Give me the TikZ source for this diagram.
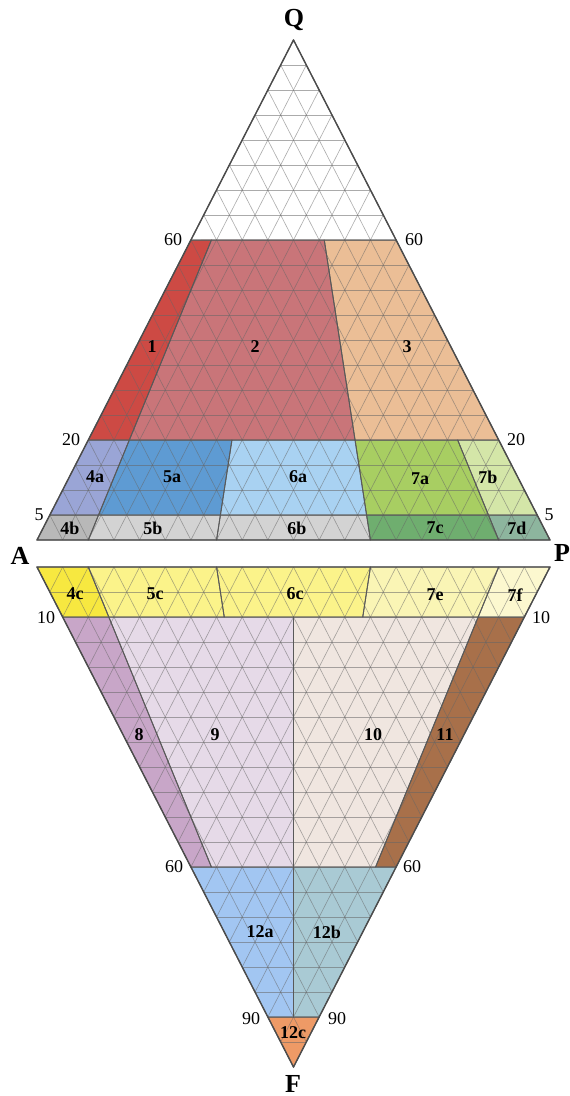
\documentclass[tikz,border=0pt]{standalone}
\usepackage{fontspec}
\setmainfont{Liberation Serif}
\usetikzlibrary{calc}
\definecolor{c1}{HTML}{CD4A44}
\definecolor{c2}{HTML}{C97579}
\definecolor{c3}{HTML}{EBBE96}
\definecolor{c4a}{HTML}{9AA5D6}
\definecolor{c5a}{HTML}{5E9BD3}
\definecolor{c6a}{HTML}{A9D2F2}
\definecolor{c7a}{HTML}{A8CE62}
\definecolor{c7b}{HTML}{D4E6A8}
\definecolor{c4b}{HTML}{B8B8B8}
\definecolor{c5b}{HTML}{D3D3D3}
\definecolor{c7c}{HTML}{6FAE6F}
\definecolor{c7d}{HTML}{8DB59E}
\definecolor{c4c}{HTML}{F7E840}
\definecolor{c5c}{HTML}{FBF38A}
\definecolor{c7e}{HTML}{FAF5B5}
\definecolor{c7f}{HTML}{FCF8CF}
\definecolor{c8}{HTML}{C8A6C8}
\definecolor{c9}{HTML}{E6DAE8}
\definecolor{c10}{HTML}{F0E6E0}
\definecolor{c11}{HTML}{A8704A}
\definecolor{c12a}{HTML}{A2C6F2}
\definecolor{c12b}{HTML}{A9CAD4}
\definecolor{c12c}{HTML}{EE9A66}
\tikzset{
  meshline/.style={draw=black!60, line width=0.6pt, opacity=0.55},
  zoneedge/.style={draw=black!65, line width=0.9pt},
  rim/.style={draw=black!70, line width=1.4pt, line join=round},
  fname/.style={inner sep=0pt, font=\fontsize{18}{18}\selectfont\bfseries},
  scalenum/.style={inner sep=0pt, font=\fontsize{18}{18}\selectfont},
  apex/.style={inner sep=0pt, font=\fontsize{26}{26}\selectfont\bfseries}
}
% point at level #1 with ratio P/(A+P) = #2
\newcommand{\uq}[2]{(barycentric cs:A={(1-#1)*(1-#2)},P={(1-#1)*(#2)},Q={#1})}
\newcommand{\lf}[2]{(barycentric cs:A2={(1-#1)*(1-#2)},P2={(1-#1)*(#2)},F={#1})}
\newcommand{\upzones}{0.6/1/0/1/white, 0.2/0.6/0/0.1/c1, 0.2/0.6/0.1/0.65/c2,
  0.2/0.6/0.65/1/c3, 0.05/0.2/0/0.1/c4a, 0.05/0.2/0.1/0.35/c5a,
  0.05/0.2/0.35/0.65/c6a, 0.05/0.2/0.65/0.9/c7a, 0.05/0.2/0.9/1/c7b,
  0/0.05/0/0.1/c4b, 0/0.05/0.1/0.35/c5b, 0/0.05/0.35/0.65/c5b,
  0/0.05/0.65/0.9/c7c, 0/0.05/0.9/1/c7d}
\newcommand{\lowzones}{0/0.1/0/0.1/c4c, 0/0.1/0.1/0.35/c5c, 0/0.1/0.35/0.65/c5c,
  0/0.1/0.65/0.9/c7e, 0/0.1/0.9/1/c7f, 0.1/0.6/0/0.1/c8, 0.1/0.6/0.1/0.5/c9,
  0.1/0.6/0.5/0.9/c10, 0.1/0.6/0.9/1/c11, 0.6/0.9/0/0.5/c12a,
  0.6/0.9/0.5/1/c12b, 0.9/1/0/1/c12c}

\begin{document}
\begin{tikzpicture}[x=1pt, y=-1pt]
  \useasboundingbox[fill=white] (0,0) rectangle (570,1096);
  \coordinate (A) at (37,540);
  \coordinate (P) at (550,540);
  \coordinate (Q) at (293.5,40);
  \coordinate (A2) at (37,567);
  \coordinate (P2) at (550,567);
  \coordinate (F) at (293.5,1067);

  \foreach \qa/\qb/\ra/\rb/\c in \upzones
    \fill[\c] \uq{\qa}{\ra} -- \uq{\qb}{\ra} -- \uq{\qb}{\rb} -- \uq{\qa}{\rb} -- cycle;
  \foreach \qa/\qb/\ra/\rb/\c in \lowzones
    \fill[\c] \lf{\qa}{\ra} -- \lf{\qb}{\ra} -- \lf{\qb}{\rb} -- \lf{\qa}{\rb} -- cycle;

  \foreach \i in {1,...,19}{
    \draw[meshline] ($(A)!\i/20!(Q)$) -- ($(P)!\i/20!(Q)$);
    \draw[meshline] ($(A)!\i/20!(P)$) -- ($(Q)!\i/20!(P)$);
    \draw[meshline] ($(P)!\i/20!(A)$) -- ($(Q)!\i/20!(A)$);
    \draw[meshline] ($(A2)!\i/20!(F)$) -- ($(P2)!\i/20!(F)$);
    \draw[meshline] ($(A2)!\i/20!(P2)$) -- ($(F)!\i/20!(P2)$);
    \draw[meshline] ($(P2)!\i/20!(A2)$) -- ($(F)!\i/20!(A2)$);
  }

  \foreach \qa/\qb/\ra/\rb/\c in \upzones
    \draw[zoneedge] \uq{\qa}{\ra} -- \uq{\qb}{\ra} -- \uq{\qb}{\rb} -- \uq{\qa}{\rb} -- cycle;
  \foreach \qa/\qb/\ra/\rb/\c in \lowzones
    \draw[zoneedge] \lf{\qa}{\ra} -- \lf{\qb}{\ra} -- \lf{\qb}{\rb} -- \lf{\qa}{\rb} -- cycle;
  \draw[rim] (A) -- (P) -- (Q) -- cycle;
  \draw[rim] (A2) -- (P2) -- (F) -- cycle;

  \foreach \n/\x/\y in {1/152/347, 2/255/347, 3/407/347, 4a/95/477, 5a/172/477,
    6a/298/477, 7a/420/479, 7b/488/477, 4b/70/528, 5b/153/528, 6b/297/528,
    7c/435/528, 7d/517/528, 4c/75/594, 5c/155/594, 6c/295/594, 7e/435/595,
    7f/515/595, 8/139/735, 9/215/735, 10/373/735, 11/445/735, 12a/260/932,
    12b/327/932, 12c/293/1033}
    \node[fname] (z\n) at (\x,\y) {\n};

  \foreach \n/\x/\y [count=\k] in {60/173/240, 60/414/240, 20/71/440, 20/516/440,
    5/39/515, 5/549/515, 10/46/618, 10/541/618, 60/174/867, 60/412/867,
    90/251/1019, 90/337/1019}
    \node[scalenum] (n\k) at (\x,\y) {\n};

  \node[apex] (lQ) at (294,20) {Q};
  \node[apex] (lA) at (20,556) {A};
  \node[apex] (lP) at (562,553) {P};
  \node[apex] (lF) at (293,1084) {F};
\end{tikzpicture}
\end{document}
